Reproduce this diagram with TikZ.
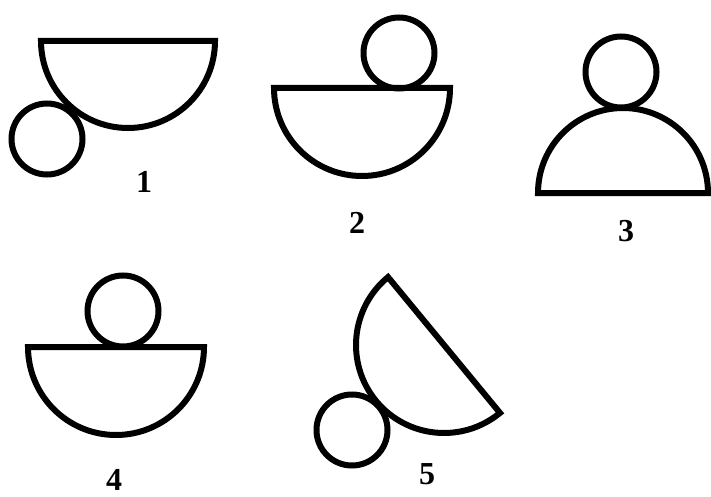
\documentclass[tikz,border=0pt]{standalone}
\usepackage{fontspec}
\setmainfont{Liberation Serif}
\tikzset{
  bowl/.style={line width=6pt, line join=miter},
  ball/.style={circle, draw, line width=6pt, minimum size=71pt, inner sep=0pt},
  figlab/.style={font=\fontsize{32}{34}\selectfont\bfseries, inner sep=0pt},
}
\begin{document}
\begin{tikzpicture}[x=1pt,y=1pt]
  \fill[white] (0,0) rectangle (711,496);
  \useasboundingbox (0,0) rectangle (711,496);
  % figure 1
  \draw[bowl] (41,455) arc[start angle=180, end angle=360, radius=87] -- cycle;
  \node[ball] (ball1) at (47,357) {};
  \node[figlab] (lab1) at (144,314) {1};
  % figure 2
  \draw[bowl] (274,408) arc[start angle=180, end angle=360, radius=88] -- cycle;
  \node[ball] (ball2) at (399,443) {};
  \node[figlab] (lab2) at (357,273) {2};
  % figure 3
  \draw[bowl] (708,303) arc[start angle=0, end angle=180, radius=85] -- cycle;
  \node[ball] (ball3) at (621,424) {};
  \node[figlab] (lab3) at (626,265) {3};
  % figure 4
  \draw[bowl] (28,149) arc[start angle=180, end angle=360, radius=88] -- cycle;
  \node[ball] (ball4) at (123,185) {};
  \node[figlab] (lab4) at (114,16) {4};
  % figure 5
  \draw[bowl] (444,151) ++(129.5:88)
    arc[start angle=129.5, end angle=309.5, radius=88] -- cycle;
  \node[ball] (ball5) at (352,66) {};
  \node[figlab] (lab5) at (427,22) {5};
\end{tikzpicture}
\end{document}
